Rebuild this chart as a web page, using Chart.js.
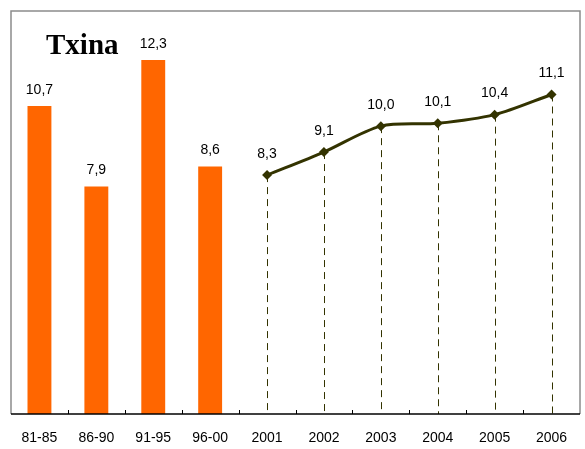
<!DOCTYPE html>
<html lang="pt">

<head>
    <meta charset="UTF-8">
    <title>Txina</title>
    <script src="https://cdn.jsdelivr.net/npm/chart.js"></script>
    <style>
        html, body { margin: 0; padding: 0; background: #fff; }
        .caixa { width: 585px; height: 449px; }
    </style>
</head>

<body>
    <div class="caixa">
        <canvas id="grafico" width="585" height="449"></canvas>
    </div>
</body>

</html>

<script>
    // categorias do eixo
    const periodos = ['81-85', '86-90', '91-95', '96-00', '2001', '2002', '2003', '2004', '2005', '2006'];
    // medias por periodo (barras)
    const mediasPeriodo = [10.7, 7.9, 12.3, 8.6, null, null, null, null, null, null];
    // crescimento anual (linha)
    const crescimentoAnual = [null, null, null, null, 8.3, 9.1, 10.0, 10.1, 10.4, 11.1];

    function virgula(v) {
        return v.toFixed(1).replace('.', ',');
    }

    const extras = {
        id: 'extras',
        beforeDatasetsDraw(chart) {
            const ctx = chart.ctx;
            const y = chart.scales.y;
            // linhas tracejadas ate o eixo
            const meta = chart.getDatasetMeta(1);
            ctx.save();
            ctx.strokeStyle = '#333300';
            ctx.lineWidth = 1;
            ctx.setLineDash([7, 5]);
            meta.data.forEach((p, i) => {
                if (crescimentoAnual[i] == null) return;
                ctx.beginPath();
                ctx.moveTo(Math.round(p.x) + 0.5, p.y);
                ctx.lineTo(Math.round(p.x) + 0.5, y.getPixelForValue(0));
                ctx.stroke();
            });
            ctx.restore();
        },
        afterDatasetsDraw(chart) {
            const ctx = chart.ctx;
            const a = chart.chartArea;
            const y0 = chart.scales.y.getPixelForValue(0);
            ctx.save();
            // moldura
            ctx.strokeStyle = '#8c8c8c';
            ctx.lineWidth = 1.5;
            ctx.beginPath();
            ctx.moveTo(a.left, y0);
            ctx.lineTo(a.left, a.top);
            ctx.lineTo(a.right, a.top);
            ctx.lineTo(a.right, y0);
            ctx.stroke();
            // eixo
            ctx.strokeStyle = '#000';
            ctx.lineWidth = 1.5;
            ctx.beginPath();
            ctx.moveTo(a.left, y0);
            ctx.lineTo(a.right, y0);
            ctx.stroke();
            ctx.lineWidth = 1;
            const passo = (a.right - a.left) / periodos.length;
            for (let i = 1; i < periodos.length; i++) {
                const px = Math.round(a.left + passo * i) + 0.5;
                ctx.beginPath();
                ctx.moveTo(px, y0);
                ctx.lineTo(px, y0 - 4);
                ctx.stroke();
            }
            // rotulos dos valores
            ctx.fillStyle = '#000';
            ctx.font = '14px "Liberation Sans", Arial, sans-serif';
            ctx.textAlign = 'center';
            ctx.textBaseline = 'middle';
            chart.getDatasetMeta(0).data.forEach((b, i) => {
                if (mediasPeriodo[i] == null) return;
                ctx.fillText(virgula(mediasPeriodo[i]), b.x, b.y - 16);
            });
            chart.getDatasetMeta(1).data.forEach((p, i) => {
                if (crescimentoAnual[i] == null) return;
                ctx.fillText(virgula(crescimentoAnual[i]), p.x, p.y - 21);
            });
            // titulo
            ctx.font = 'bold 29px "Liberation Serif", "Times New Roman", serif';
            ctx.textAlign = 'left';
            ctx.textBaseline = 'alphabetic';
            ctx.fillText('Txina', 46, 54);
            ctx.restore();
        }
    };

    const data = {
        labels: periodos,
        datasets: [
            {
                type: 'bar',
                label: 'Periodos',
                data: mediasPeriodo,
                backgroundColor: '#ff6600',
                borderWidth: 0,
                barPercentage: 0.84,
                categoryPercentage: 0.5,
                order: 2
            },
            {
                type: 'line',
                label: 'Anual',
                data: crescimentoAnual,
                borderColor: '#333300',
                backgroundColor: '#333300',
                borderWidth: 3,
                tension: 0.3,
                pointStyle: 'rectRot',
                pointRadius: 5,
                pointBorderWidth: 0,
                spanGaps: false,
                order: 1
            }
        ]
    };

    const config = {
        type: 'bar',
        data: data,
        options: {
            responsive: false,
            animation: false,
            layout: {
                padding: { left: 11, right: 2, top: 11, bottom: 0 }
            },
            plugins: {
                legend: { display: false },
                title: { display: false },
                tooltip: { enabled: false }
            },
            scales: {
                x: {
                    offset: true,
                    grid: { display: false, drawTicks: false },
                    border: { display: false },
                    afterFit(scale) {
                        scale.height = 35;
                    },
                    ticks: {
                        color: '#000',
                        padding: 16,
                        maxRotation: 0,
                        autoSkip: false,
                        font: { family: '"Liberation Sans", Arial, sans-serif', size: 14 }
                    }
                },
                y: {
                    display: false,
                    min: 0,
                    max: 14
                }
            }
        },
        plugins: [extras]
    };

    let myChart = new Chart(
        document.getElementById('grafico'),
        config
    );
</script>
